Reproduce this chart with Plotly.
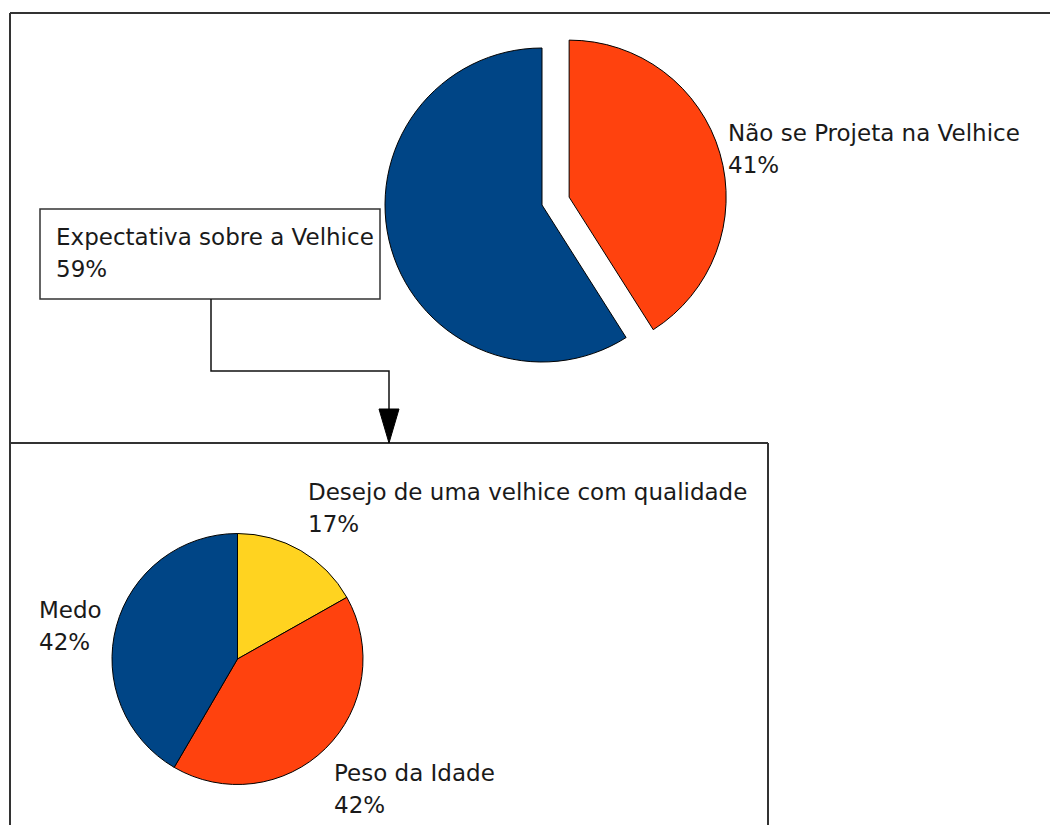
"""Expectativa sobre a velhice: pie with exploded slice and a detail pie below."""

import plotly.graph_objects as go

W, H = 1058, 825
# the page body adds an 8px margin around the figure
_OFFSET = 8

top_labels = ["Não se Projeta na Velhice", "Expectativa sobre a Velhice"]
top_values = [41, 59]

bottom_labels = ["Desejo de uma velhice com qualidade", "Peso da Idade", "Medo"]
bottom_values = [17, 42, 42]

_BLUE = "#004586"
_ORANGE = "#ff420e"
_YELLOW = "#ffd320"
_LINE = "#333333"
_FONT = {"family": "DejaVu Sans", "size": 23, "color": "#1a1a1a"}


def px(x):
    return (x - _OFFSET) / W


def py(y):
    return 1 - (y - _OFFSET) / H


def pie_domain(cx, cy, r, pull=0.0):
    half = r * (1 + pull)
    return {
        "x": [px(cx - half), px(cx + half)],
        "y": [py(cy + half), py(cy - half)],
    }


fig = go.Figure()

top_pull = 0.18
fig.add_trace(
    go.Pie(
        labels=top_labels,
        values=top_values,
        sort=False,
        direction="clockwise",
        pull=[top_pull, 0],
        marker={"colors": [_ORANGE, _BLUE], "line": {"color": "#000000", "width": 1}},
        textinfo="none",
        hoverinfo="label+percent",
        domain=pie_domain(542, 205, 157, top_pull),
        showlegend=False,
    )
)

fig.add_trace(
    go.Pie(
        labels=bottom_labels,
        values=bottom_values,
        sort=False,
        direction="clockwise",
        marker={"colors": [_YELLOW, _ORANGE, _BLUE], "line": {"color": "#000000", "width": 1}},
        textinfo="none",
        hoverinfo="label+percent",
        domain=pie_domain(237.5, 659, 125.5),
        showlegend=False,
    )
)

# label anchors (left edge, middle of first line) in page pixels
top_anchors = [(728, 133), (56, 237)]
bottom_anchors = [(308, 492), (334, 773), (39, 610)]
line_gap = 32

annotations = []
for labels, values, anchors in [
    (top_labels, top_values, top_anchors),
    (bottom_labels, bottom_values, bottom_anchors),
]:
    total = sum(values)
    for label, value, (ax, ay) in zip(labels, values, anchors):
        pct = f"{round(100 * value / total)}%"
        for i, text in enumerate([label, pct]):
            annotations.append(
                dict(
                    x=px(ax),
                    y=py(ay + i * line_gap),
                    xref="paper",
                    yref="paper",
                    text=text,
                    showarrow=False,
                    xanchor="left",
                    yanchor="middle",
                    font=_FONT,
                    borderpad=0,
                    borderwidth=0,
                )
            )


def line(x0, y0, x1, y1, width=2):
    return dict(
        type="line",
        xref="paper",
        yref="paper",
        x0=px(x0),
        y0=py(y0),
        x1=px(x1),
        y1=py(y1),
        line={"color": _LINE, "width": width},
    )


shapes = [
    # outer frame (top + left)
    line(10, 13, W + _OFFSET, 13),
    line(10, 13, 10, H + _OFFSET),
    # detail frame
    line(10, 443, 768, 443),
    line(768, 443, 768, H + _OFFSET),
    # callout box
    dict(
        type="rect",
        xref="paper",
        yref="paper",
        x0=px(40),
        y0=py(209),
        x1=px(380),
        y1=py(299),
        line={"color": _LINE, "width": 1.5},
    ),
    # connector
    dict(
        type="path",
        xref="paper",
        yref="paper",
        path=(
            f"M {px(211)} {py(299)} L {px(211)} {py(371)} "
            f"L {px(389)} {py(371)} L {px(389)} {py(412)}"
        ),
        line={"color": "#111111", "width": 1.5},
    ),
    dict(
        type="path",
        xref="paper",
        yref="paper",
        path=f"M {px(379)} {py(409)} L {px(399)} {py(409)} L {px(389)} {py(443)} Z",
        fillcolor="#000000",
        line={"color": "#000000", "width": 1},
    ),
]

fig.update_layout(
    width=W,
    height=H,
    margin={"l": 0, "r": 0, "t": 0, "b": 0},
    paper_bgcolor="white",
    plot_bgcolor="white",
    annotations=annotations,
    shapes=shapes,
)

fig.write_html("out.html")
